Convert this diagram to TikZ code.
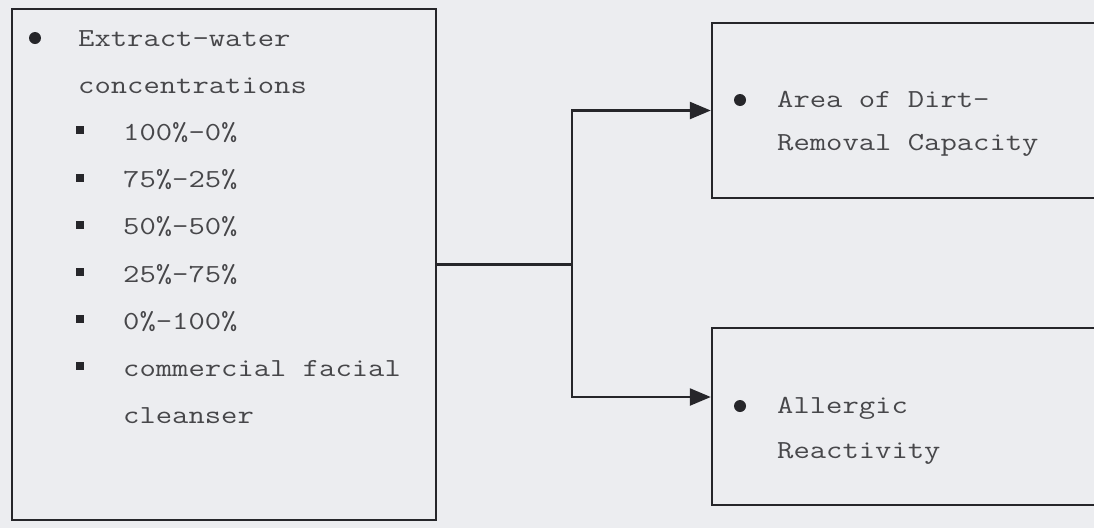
\documentclass[tikz,border=0pt]{standalone}
\usepackage{fontspec}
\newfontfamily\printfont[FakeStretch=1.22]{Latin Modern Mono}
\usetikzlibrary{arrows.meta}
\definecolor{paper}{RGB}{236,237,240}
\definecolor{ink}{RGB}{38,38,42}
\newcommand{\lineGap}{47.2}
\newcommand{\firstBase}{46}
\newcommand{\subIndent}{123}
\begin{document}
\begin{tikzpicture}[x=1pt,y=-1pt,
  box/.style={draw=ink, line width=2.4pt, inner sep=0pt},
  wire/.style={draw=ink, line width=2.4pt},
  item/.style={anchor=base west, inner sep=0pt, text=ink!85, font=\printfont\fontsize{26}{30}\selectfont}]

\clip (0,0) rectangle (1094,528);
\fill[paper] (0,0) rectangle (1094,528);

\node[box, minimum width=424pt, minimum height=511pt] (conc) at (224,264.5) {};
\node[box, minimum width=400pt, minimum height=175pt] (dirt) at (912,110.5) {};
\node[box, minimum width=400pt, minimum height=177pt] (allergy) at (912,416.5) {};

% left box
\fill[ink] (35,38) circle (6);
\node[item] (extract) at (78,\firstBase) {Extract-water};
\node[item] (concword) at (78,{\firstBase+\lineGap}) {concentrations};
\foreach \pct [count=\i] in {100\%-0\%, 75\%-25\%, 50\%-50\%, 25\%-75\%, 0\%-100\%, commercial facial}{
  \fill[ink] (76,{\firstBase+(\i+1)*\lineGap-14}) rectangle ++(8,8);
  \node[item] (sub\i) at (\subIndent,{\firstBase+(\i+1)*\lineGap}) {\pct};
}
\node[item] (cleanser) at (\subIndent,{\firstBase+8*\lineGap}) {cleanser};

% right boxes
\fill[ink] (740,100) circle (6);
\node[item] (area) at (777,107) {Area of Dirt-};
\node[item] (removal) at (777,150) {Removal Capacity};
\fill[ink] (740,406) circle (6);
\node[item] (allergic) at (777,413) {Allergic};
\node[item] (reactivity) at (777,458) {Reactivity};

% connectors
\coordinate (split) at (572,264.5);
\draw[wire] (conc.east) -- (split);
\draw[wire, -{Triangle[length=21pt,width=17pt]}] (split) |- (dirt.west);
\draw[wire, -{Triangle[length=21pt,width=17pt]}] (split) |- (allergy.west |- 0,397);
\end{tikzpicture}
\end{document}
